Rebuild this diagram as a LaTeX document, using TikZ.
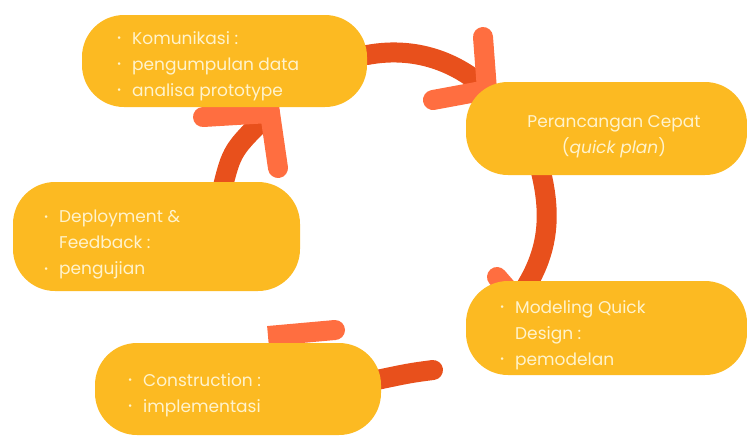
\documentclass[tikz,border=0pt]{standalone}
\usepackage{fontspec}
\setmainfont{Poppins}
\definecolor{boxfill}{HTML}{FCBA22}
\definecolor{arcdark}{HTML}{E8501C}
\definecolor{arclight}{HTML}{FF6E40}
\definecolor{boxtext}{HTML}{FFF3CC}
\newcommand{\itm}{\makebox[15pt][l]{\raisebox{.25ex}{\scalebox{.6}{\textbullet}}}}
\newcommand{\cnt}{\hspace*{15pt}}
\begin{document}
\begin{tikzpicture}[x=1pt,y=-1pt,line cap=round,
    phase/.style={fill=boxfill,rounded corners=42pt,inner sep=0pt},
    label/.style={text=boxtext,font=\fontsize{17}{26}\selectfont,inner sep=0pt},
    arc/.style={draw=arcdark,line width=20pt},
    prong/.style={draw=arclight,line width=20pt}]
  \useasboundingbox (0,0) rectangle (747,437);
  \coordinate (t1) at (487,90);
  \coordinate (s2) at (540,168);
  \coordinate (t2) at (517,300);
  \coordinate (s3) at (433,370);
  \coordinate (t3) at (372,381);
  \coordinate (s4) at (222,190);
  \coordinate (t4) at (270,113);
  \draw[arc] (224,61) ++(143,-6) .. controls (420,45) and (462,66) .. (t1);
  \draw[prong] (483,37) -- (t1) -- (433,100);
  \draw[arc] (s2) .. controls (552,215) and (550,255) .. (t2);
  \draw[prong] (497,277) -- (t2);
  \draw[arc] (s3) .. controls (410,373) .. (t3);
  \draw[prong,line cap=butt] (268,336) -- (335,330);
  \fill[arclight] (335,330) circle (10);
  \draw[arc] (s4) .. controls (232,150) .. (t4);
  \draw[prong] (203,117) -- (t4) -- (278,168);
  \node[phase,minimum width=285,minimum height=92] (kom) at (224.5,61) {};
  \node[phase,minimum width=281,minimum height=93] (per) at (606.5,128.5) {};
  \node[phase,minimum width=287,minimum height=109] (dep) at (156.5,236.5) {};
  \node[phase,minimum width=281,minimum height=94] (mod) at (606.5,328) {};
  \node[phase,minimum width=286,minimum height=92] (con) at (238,389) {};
  \node[label,align=left,anchor=north west] (komtext) at (117,31)
    {\itm Komunikasi :\\ \itm pengumpulan data\\ \itm analisa prototype};
  \node[label,align=center] (pertext) at (614,136.5)
    {Perancangan Cepat\\ (\textit{quick plan})};
  \node[label,align=left,anchor=north west] (deptext) at (44,210)
    {\itm Deployment \&\\ \cnt Feedback :\\ \itm pengujian};
  \node[label,align=left,anchor=north west] (modtext) at (500,300)
    {\itm Modeling Quick\\ \cnt Design :\\ \itm pemodelan};
  \node[label,align=left,anchor=north west] (context) at (128,373)
    {\itm Construction :\\ \itm implementasi};
\end{tikzpicture}
\end{document}
